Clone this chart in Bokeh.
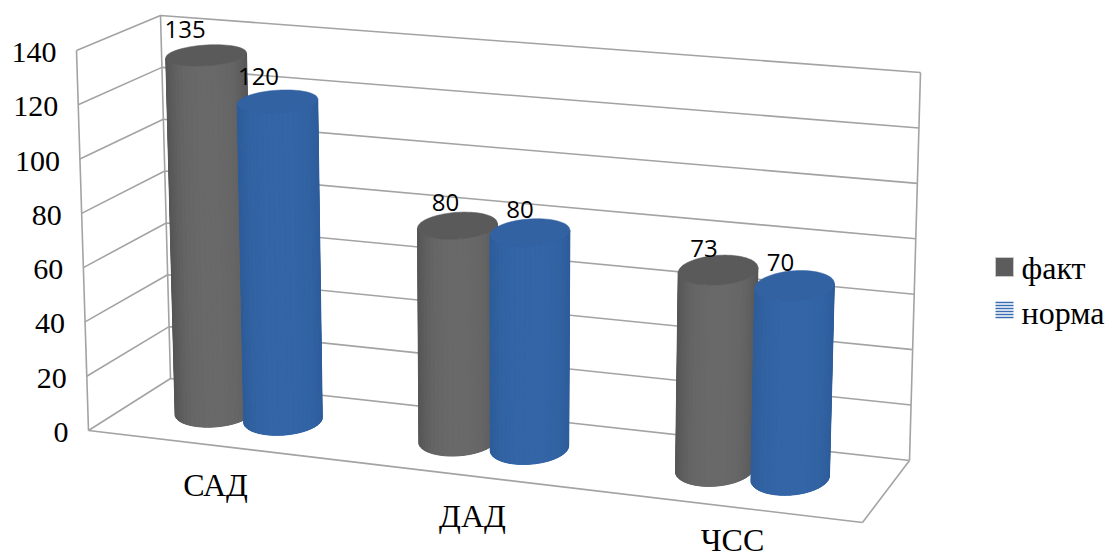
import math
from bokeh.plotting import figure
from bokeh.models import Label
from bokeh.core.properties import value
from bokeh.embed import file_html
from bokeh.resources import INLINE

# Chart content
categories = ["САД", "ДАД", "ЧСС"]
series_names = ["факт", "норма"]
fact_values = [135, 80, 73]
norm_values = [120, 80, 70]
tick_values = [0, 20, 40, 60, 80, 100, 120, 140]

# Screen corners of the 3D box: (u, v) on the back wall and the front plane
BACK = {"bl": (170, 378), "br": (909, 460), "tl": (160, 15), "tr": (920, 72)}
FRONT = {"bl": (88, 430), "br": (862, 522), "tl": (76, 50), "tr": (874, 122)}
AXIS_MAX = 140.0

GRID = "#a3a3a3"
SERIF = value("Liberation Serif")
SANS = value("Open Sans")


def lerp(a, b, t):
    return a + (b - a) * t


def plane(corners, u, v):
    lx = lerp(corners["bl"][0], corners["tl"][0], v)
    ly = lerp(corners["bl"][1], corners["tl"][1], v)
    rx = lerp(corners["br"][0], corners["tr"][0], v)
    ry = lerp(corners["br"][1], corners["tr"][1], v)
    return lerp(lx, rx, u), lerp(ly, ry, u)


def project(u, val, w):
    """Map category position u, value and depth w (0 back, 1 front) to the page."""
    v = val / AXIS_MAX
    bx, by = plane(BACK, u, v)
    fx, fy = plane(FRONT, u, v)
    return lerp(bx, fx, w), lerp(by, fy, w)


def shade(rgb_edge, rgb_mid, t):
    k = 1 - abs(math.cos(t)) ** 3
    return "#%02x%02x%02x" % tuple(round(lerp(e, m, k)) for e, m in zip(rgb_edge, rgb_mid))


p = figure(width=1108, height=556, x_range=(0, 1108), y_range=(556, 0),
           output_backend="svg", toolbar_location=None, min_border=0)
p.axis.visible = False
p.grid.visible = False
p.outline_line_color = None
p.background_fill_color = "white"
p.border_fill_color = "white"

# Box frame and value gridlines
xs, ys = [], []
for t in tick_values:
    a, b, c = project(0, t, 1), project(0, t, 0), project(1, t, 0)
    xs.append([a[0], b[0], c[0]])
    ys.append([a[1], b[1], c[1]])
for (u0, w0, v0), (u1, w1, v1) in [
    ((0, 1, 0), (0, 1, 140)), ((0, 0, 0), (0, 0, 140)), ((1, 0, 0), (1, 0, 140)),
    ((0, 1, 0), (1, 1, 0)), ((1, 1, 0), (1, 0, 0)),
]:
    a, b = project(u0, v0, w0), project(u1, v1, w1)
    xs.append([a[0], b[0]])
    ys.append([a[1], b[1]])
p.multi_line(xs, ys, line_color=GRID, line_width=1.6)

# Cylinders, drawn from back to front within each category
BAR_RU = 0.052
BAR_RW = 0.28
BAR_W = 0.45
TILT = 2.5
TOP_DROP = 4
BASE_DROP = 1
STRIPS = 24
STYLES = [
    {"edge": (0x56, 0x56, 0x56), "mid": (0x69, 0x69, 0x69), "cap": "#5a5a5a"},
    {"edge": (0x2e, 0x5d, 0x9a), "mid": (0x33, 0x65, 0xa7), "cap": "#3262a2"},
]


def ring(u, val, t):
    cx, cy = project(u, val, BAR_W)
    _, y_back = project(u, val, 0)
    _, y_front = project(u, val, 1)
    x, _ = project(u + BAR_RU * math.cos(t), val, BAR_W)
    drop = TOP_DROP if val > 0 else BASE_DROP
    return x, cy + drop + BAR_RW * (y_front - y_back) * math.sin(t) - TILT * math.cos(t)


def cylinder(u, val, style):
    # A solid silhouette underneath keeps the seams between shaded strips closed
    fine = [math.pi * i / 48 for i in range(49)]
    outline = [ring(u, 0, t) for t in fine] + [ring(u, val, t) for t in reversed(fine)]
    mid = "#%02x%02x%02x" % style["mid"]
    p.patch([q[0] for q in outline], [q[1] for q in outline], fill_color=mid, line_color=None)

    sx, sy, colors = [], [], []
    for i in range(STRIPS):
        t0 = math.pi * i / STRIPS
        t1 = math.pi * (i + 1) / STRIPS
        a, b = ring(u, 0, t0), ring(u, 0, t1)
        c, d = ring(u, val, t1), ring(u, val, t0)
        sx.append([a[0], b[0], c[0], d[0]])
        sy.append([a[1], b[1], c[1], d[1]])
        colors.append(shade(style["edge"], style["mid"], (t0 + t1) / 2))
    p.patches(sx, sy, fill_color=colors, line_color=colors, line_width=1.0)
    cap = [ring(u, val, 2 * math.pi * i / 72) for i in range(72)]
    p.patch([q[0] for q in cap], [q[1] for q in cap],
            fill_color=style["cap"], line_color=style["cap"], line_width=0.5)


bar_u = [(0.107, 0.198), (0.430, 0.5245), (0.770, 0.870)]

for i in range(len(categories)):
    cylinder(bar_u[i][0], fact_values[i], STYLES[0])
    cylinder(bar_u[i][1], norm_values[i], STYLES[1])

# Category labels
cat_x = [215, 472, 732]
cat_y = [484, 515, 539]
p.text(x=cat_x, y=cat_y, text=categories, text_font=SERIF, text_font_size="32px",
       text_color="black", text_align="center", text_baseline="middle")

# Legend
p.quad(left=[995], right=[1013], top=[257], bottom=[276], fill_color="#5c5c5c",
       line_color="#c8c8c8", line_width=1)
p.multi_line([[995, 1013]] * 6, [[302 + 3 * i] * 2 for i in range(6)],
             line_color="#3a6cb0", line_width=1.5)
p.text(x=[1021, 1021], y=[267, 312], text=series_names, text_font=SERIF, text_font_size="32px",
       text_color="black", text_align="left", text_baseline="middle")

# Value axis labels as annotations placed along the front edge of the left wall
for t in tick_values:
    x, y = project(0, t, 1)
    p.add_layout(Label(x=x - 20, y=y + 2, text=str(t), text_font="Liberation Serif",
                       text_font_size="30px", text_color="black",
                       text_align="right", text_baseline="middle"))

# Value labels, offset from the top of each cylinder
label_dx = [[-21, -19], [-12, -10], [-14, -14]]
label_dy = [[-22, -21], [-19, -19], [-18, -19]]
lx, ly, lt = [], [], []
for i in range(len(categories)):
    for s, vals in enumerate((fact_values, norm_values)):
        cx, cy = project(bar_u[i][s], vals[i], BAR_W)
        lx.append(cx + label_dx[i][s])
        ly.append(cy + label_dy[i][s])
        lt.append(str(vals[i]))
p.text(x=lx, y=ly, text=lt, text_font=SANS, text_font_size="24px", text_color="black",
       text_align="center", text_baseline="middle")

open("out.html", "w").write(file_html(p, INLINE))
